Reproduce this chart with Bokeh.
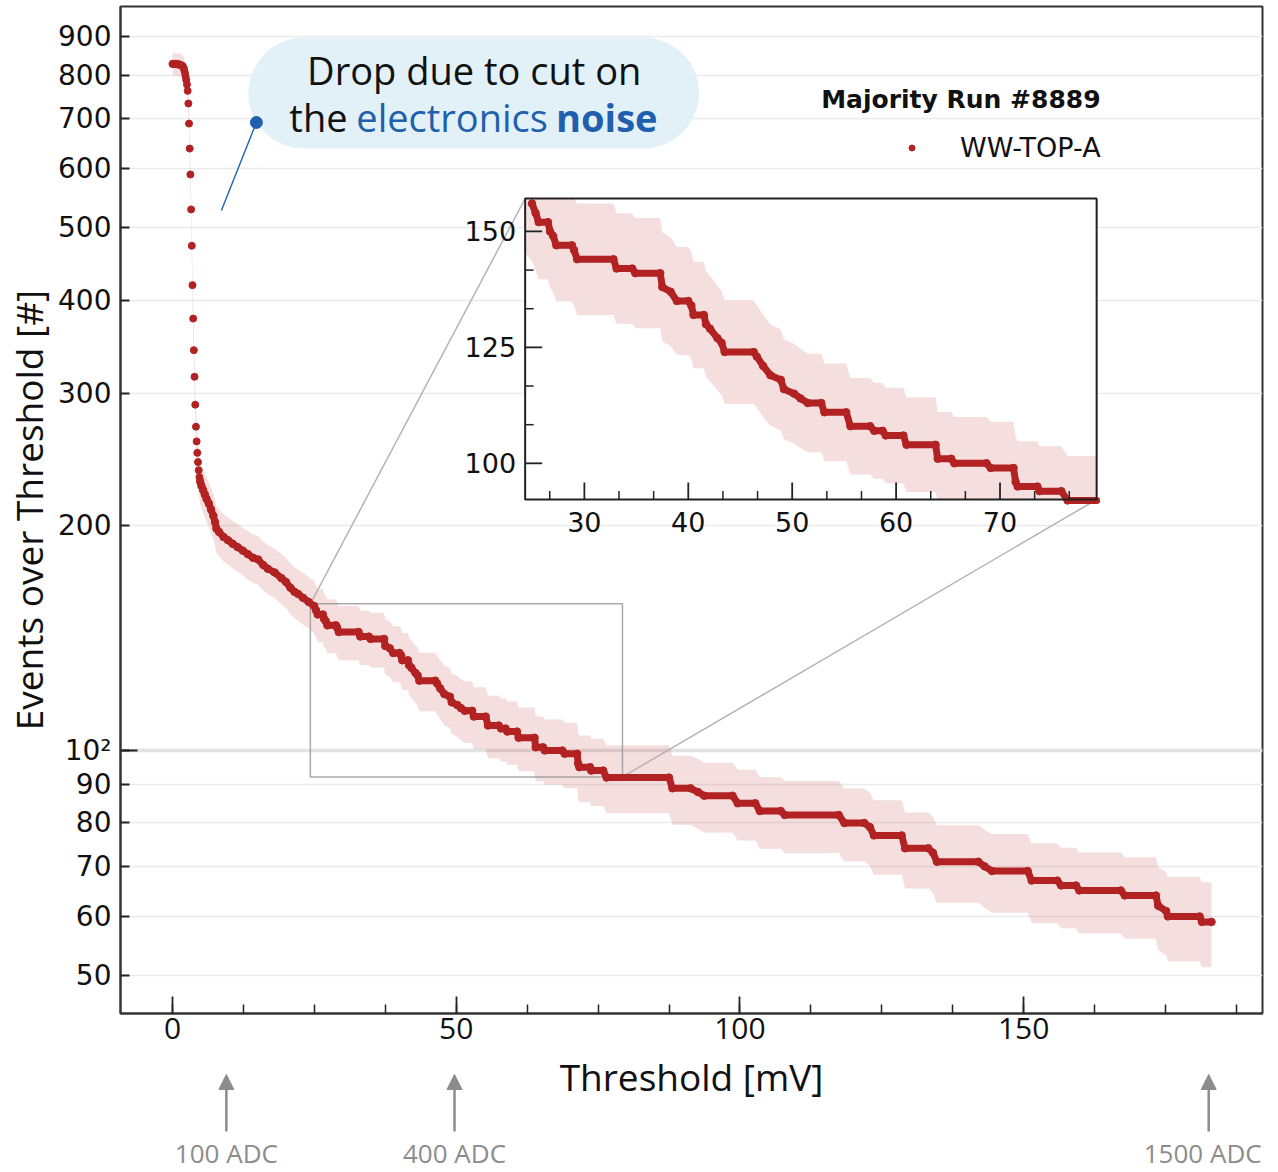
import numpy as np
from bokeh.plotting import figure
from bokeh.layouts import column
from bokeh.models import (Range1d, LinearScale, FixedTicker, BasicTickFormatter, Span, Label,
                          Legend, LegendItem, BoxAnnotation, Arrow, NormalHead)
from bokeh.core.properties import value
from bokeh.embed import file_html
from bokeh.resources import INLINE

# ---------------------------------------------------------------- data
# Steep part: electronics noise, one reading per ADC step
noise_mv = [0.00, 0.12, 0.24, 0.37, 0.49, 0.61, 0.73, 0.85, 0.97, 1.10,
            1.22, 1.34, 1.46, 1.58, 1.70, 1.83, 1.95, 2.07, 2.19, 2.31,
            2.43, 2.56, 2.68, 2.80, 2.92, 3.04, 3.16, 3.29, 3.41, 3.53,
            3.65, 3.77, 3.89, 4.02, 4.14, 4.26, 4.38, 4.50, 4.62, 4.75]
noise_events = [828, 828, 828, 828, 828, 828, 827, 827, 827, 827,
                826, 826, 825, 824, 823, 822, 818, 813, 806, 797,
                788, 777, 762, 733, 689, 638, 589, 529, 473, 419,
                378, 343, 316, 290, 271, 259, 250, 243, 237, 232]

# Threshold scan above the noise (corners of the counting staircase)
thr_mv = [4.88, 5.10, 5.40, 5.70, 6.00, 6.40, 6.80, 7.20, 7.50, 7.75,
          8.20, 9.00, 9.80, 10.6, 11.5, 12.4, 13.3, 14.2, 15.1, 16.0,
          16.8, 18.0, 19.2, 20.0, 20.8, 21.5, 22.1, 23.0, 24.0, 24.96,
          25.3, 25.6, 26.5, 26.7, 27.0, 27.3, 28.8, 29.0, 29.3, 32.8,
          33.1, 34.6, 34.9, 37.3, 37.5, 38.3, 38.9, 40.0, 40.3, 40.5,
          41.5, 41.7, 42.1, 42.8, 43.2, 43.5, 46.3, 46.6, 47.2, 47.9,
          48.9, 49.2, 50.2, 50.8, 51.5, 52.8, 53.1, 55.2, 55.6, 57.5,
          57.9, 58.7, 59.0, 60.7, 61.0, 63.8, 64.0, 65.3, 65.6, 68.7,
          69.1, 71.3, 71.5, 71.7, 73.6, 73.8, 75.9, 76.5, 87.5, 88.1,
          91.3, 92.6, 93.7, 98.7, 99.6, 102.7, 103.5, 107.2, 107.9, 117.4,
          118.4, 121.9, 122.9, 123.6, 128.5, 129.1, 133.2, 134.0, 134.7, 142.0,
          143.1, 144.4, 150.7, 151.4, 155.9, 156.6, 159.2, 159.8, 167.1, 167.8,
          173.3, 173.7, 175.1, 175.4, 181.0, 181.4, 183.1]
events = [229, 226, 223, 220, 217, 214, 210, 206, 202, 198,
          196, 193, 191, 189, 187, 185, 183, 181, 180, 177,
          175, 173, 170, 168, 165, 163, 162, 160, 158, 156,
          154, 152, 152, 150, 149, 147, 147, 146, 144, 144,
          142, 142, 141, 141, 138, 137, 135, 135, 134, 132,
          132, 130, 129, 127, 126, 124, 124, 123, 121, 119,
          118, 116, 115, 114, 113, 113, 111, 111, 108, 108,
          107, 107, 106, 106, 104, 104, 101, 101, 100, 100,
          99, 99, 96, 95, 95, 94, 94, 92, 92, 89,
          89, 88, 87, 87, 85, 85, 83, 83, 82, 82,
          80, 80, 79, 77, 77, 74, 74, 73, 71, 71,
          70, 69, 69, 67, 67, 66, 66, 65, 65, 64,
          64, 62, 61, 60, 60, 59, 59]

run_title = "Majority Run #8889"
series_name = "WW-TOP-A"

x_major = [0, 50, 100, 150]
x_minor = [12.5 * k for k in range(16)]
y_ticks = [50, 60, 70, 80, 90, 100, 200, 300, 400, 500, 600, 700, 800, 900]
inset_x_ticks = [30, 40, 50, 60, 70]
inset_y_ticks = [100, 125, 150]

adc_labels = ["100 ADC", "400 ADC", "1500 ADC"]
adc_mv = [9.5, 49.7, 182.6]

# ---------------------------------------------------------------- style / geometry
RED = "#b22222"
GREY = "#8c8c8c"
BLUE = "#1f5fad"
INK = "#111111"

W, H = 1278, 1172
MAIN_H = 1050                      # main plot; the strip below holds the x title and ADC marks
FL, FT, FW, FH = 119, 6, 1143, 1007
FR, FB = FL + FW, FT + FH
X_RANGE = (-9.155, 192.08)
Y_RANGE = (44.5, 988.0)
SX = FW / (X_RANGE[1] - X_RANGE[0])   # px per mV

# zoomed window and the box it is drawn into (page pixels)
IX = (24.3, 79.3)
IY = (92.2, 157.1)
IL, IR, IT, IB = 524, 1096, 198, 499
isx = (IR - IL) / (IX[1] - IX[0])
isy = (IB - IT) / (IY[1] - IY[0])
inset_xr = Range1d(IX[0] - (IL - FL) / isx, IX[1] + (FR - IR) / isx)
inset_yr = Range1d(IY[0] - (FB - IB) / isy, IY[1] + (IT - FT) / isy)


def page_x(v):
    return FL + (v - X_RANGE[0]) * SX


def page_y(v):
    lo, hi = np.log10(Y_RANGE)
    return FT + (hi - np.log10(v)) / (hi - lo) * FH


# ---------------------------------------------------------------- main figure
x_range = Range1d(*X_RANGE)
p = figure(width=W, height=MAIN_H,
           min_border_left=FL, min_border_right=W - FR,
           min_border_top=FT, min_border_bottom=MAIN_H - FB,
           x_range=x_range, y_range=Range1d(*Y_RANGE),
           y_axis_type="log", output_backend="svg", toolbar_location=None,
           background_fill_color="white", border_fill_color="white")
p.extra_x_ranges = {"px": Range1d(FL, FR), "inset": inset_xr}
p.extra_y_ranges = {"px": Range1d(FB, FT), "inset": inset_yr}
p.extra_x_scales = {"px": LinearScale(), "inset": LinearScale()}
p.extra_y_scales = {"px": LinearScale(), "inset": LinearScale()}

p.outline_line_color = "#333333"
p.outline_line_width = 2

xa, ya = p.xaxis[0], p.yaxis[0]
xa.ticker = FixedTicker(ticks=x_major, minor_ticks=x_minor)
ya.ticker = FixedTicker(ticks=y_ticks, minor_ticks=[])
ya.formatter = BasicTickFormatter()
ya.major_label_overrides = {t: ("10²" if t == 100 else str(t)) for t in y_ticks}

for ax in (xa, ya):
    ax.axis_line_color = "#333333"
    ax.axis_line_width = 2
    ax.major_tick_line_color = "#222222"
    ax.major_tick_line_width = 1.8
    ax.minor_tick_line_color = "#222222"
    ax.minor_tick_line_width = 1.5
    ax.major_tick_out = 0
    ax.minor_tick_out = 0
    ax.major_label_text_color = INK
    ax.axis_label_text_color = INK
    ax.axis_label_text_font = "Open Sans"
    ax.axis_label_text_font_size = "37px"
    ax.axis_label_text_font_style = "normal"

xa.major_tick_in = 17
xa.minor_tick_in = 9
xa.major_label_text_font = "Open Sans"
xa.major_label_text_font_size = "30px"
xa.major_label_standoff = 4

ya.major_tick_in = 9
ya.minor_tick_in = 0
ya.major_label_text_font = "DejaVu Sans"
ya.major_label_text_font_size = "28px"
ya.major_label_standoff = 9
ya.axis_label = "Events over Threshold [#]"
ya.axis_label_standoff = 1

p.xgrid.visible = False
p.ygrid.grid_line_color = "#ebebeb"
p.ygrid.grid_line_width = 1.5
p.add_layout(Span(location=100, dimension="width", line_color="#e2e2e2",
                  line_width=3.5, level="underlay"))
# longer major tick for the decade
p.segment(x0=[FL], x1=[FL + 17], y0=[100], y1=[100], x_range_name="px",
          line_color="#222222", line_width=1.8)

# ---------------------------------------------------------------- main series
all_mv = np.array(noise_mv + thr_mv, dtype=float)
all_n = np.array(noise_events + events, dtype=float)
sigma = np.sqrt(all_n)  # Poisson counting uncertainty

p.varea(x=all_mv, y1=all_n - sigma, y2=all_n + sigma, fill_color=RED, fill_alpha=0.15)

# region shown magnified
p.quad(left=[IX[0]], right=[IX[1]], bottom=[IY[0]], top=[IY[1]],
       fill_alpha=0, line_color="#9a9a9a", line_width=1.5, line_alpha=0.85)
p.segment(x0=[page_x(IX[0]), page_x(IX[1])], y0=[page_y(IY[1]), page_y(IY[0])],
          x1=[IL, IR], y1=[IT, IB], x_range_name="px", y_range_name="px",
          line_color="#b4b4b4", line_width=1.5)

p.scatter(noise_mv, noise_events, size=7, color=RED)
p.line(thr_mv, events, line_width=7, color=RED, line_join="round", line_cap="round")
dots = p.scatter(thr_mv, events, size=7.5, color=RED)

# ---------------------------------------------------------------- inset
t_mv = np.array(thr_mv, dtype=float)
t_n = np.array(events, dtype=float)
inside = (t_mv >= IX[0]) & (t_mv <= IX[1])
first = int(np.argmax(inside))
last = len(t_mv) - 1 - int(np.argmax(inside[::-1]))
lo_i, hi_i = max(first - 1, 0), min(last + 1, len(t_mv) - 1)

band_x = np.clip(t_mv[lo_i:hi_i + 1], *IX)
band_n = t_n[lo_i:hi_i + 1]
band_s = np.sqrt(band_n)
line_x = np.clip(t_mv[first:hi_i + 1], *IX)
line_n = t_n[first:hi_i + 1]

kw_in = dict(x_range_name="inset", y_range_name="inset")
p.quad(left=[IX[0]], right=[IX[1]], bottom=[IY[0]], top=[IY[1]],
       fill_color="white", line_alpha=0, **kw_in)
p.varea(x=band_x, y1=np.clip(band_n - band_s, *IY), y2=np.clip(band_n + band_s, *IY),
        fill_color=RED, fill_alpha=0.15, **kw_in)
p.line(line_x, line_n, line_width=7, color=RED, line_join="round", line_cap="round", **kw_in)
p.scatter(t_mv[inside], t_n[inside], size=7.5, color=RED, **kw_in)
p.quad(left=[IX[0]], right=[IX[1]], bottom=[IY[0]], top=[IY[1]],
       fill_alpha=0, line_color="#222222", line_width=2, **kw_in)

ix_minor = [30 + k * 10 / 3 for k in range(-2, 16) if k % 3]
ix_minor = [v for v in ix_minor if IX[0] < v < IX[1]]
iy_minor = [100 + k * 25 / 3 for k in range(-2, 8) if k % 3]
iy_minor = [v for v in iy_minor if IY[0] < v < IY[1]]

tick_kw = dict(line_color="#222222", **kw_in)
p.segment(x0=inset_x_ticks, x1=inset_x_ticks, y0=[IY[0]] * 5, y1=[IY[0] + 17 / isy] * 5,
          line_width=1.8, **tick_kw)
p.segment(x0=ix_minor, x1=ix_minor, y0=[IY[0]] * len(ix_minor),
          y1=[IY[0] + 8.5 / isy] * len(ix_minor), line_width=1.5, **tick_kw)
p.segment(y0=inset_y_ticks, y1=inset_y_ticks, x0=[IX[0]] * 3, x1=[IX[0] + 17 / isx] * 3,
          line_width=1.8, **tick_kw)
p.segment(y0=iy_minor, y1=iy_minor, x0=[IX[0]] * len(iy_minor),
          x1=[IX[0] + 8.5 / isx] * len(iy_minor), line_width=1.5, **tick_kw)

p.text(x=inset_x_ticks, y=[IY[0] - 22 / isy] * 5, text=[str(t) for t in inset_x_ticks],
       text_font=value("DejaVu Sans"), text_font_size="27px", text_color=INK,
       text_align="center", text_baseline="middle", **kw_in)
p.text(x=[IX[0] - 9 / isx] * 3, y=inset_y_ticks, text=[str(t) for t in inset_y_ticks],
       text_font=value("DejaVu Sans"), text_font_size="27px", text_color=INK,
       text_align="right", text_baseline="middle", **kw_in)

# ---------------------------------------------------------------- callout
kw_px = dict(x_range_name="px", y_range_name="px")
p.add_layout(BoxAnnotation(left=247, right=698, top=37, bottom=148, fill_color="#e2f1f8",
                           fill_alpha=1.0, line_alpha=0, border_radius=56, **kw_px))
p.add_layout(Label(x=473, y=69, text="Drop due to cut on", text_align="center",
                   text_baseline="alphabetic", text_font="Open Sans", text_font_size="38px",
                   text_color=INK, **kw_px))
for x, txt, col, style in [(288, "the", INK, "normal"),
                           (355, "electronics", BLUE, "normal"),
                           (555, "noise", BLUE, "bold")]:
    p.add_layout(Label(x=x, y=116, text=txt, text_align="left", text_baseline="alphabetic",
                       text_font="Open Sans", text_font_size="38px", text_color=col,
                       text_font_style=style, **kw_px))
p.segment(x0=[255], y0=[122], x1=[220], y1=[210], line_color=BLUE, line_width=1.4,
          level="overlay", **kw_px)
p.scatter([255], [122], size=12, color=BLUE, level="overlay", **kw_px)

# ---------------------------------------------------------------- legend
p.add_layout(Label(x=1100, y=99, text=run_title, text_align="right", text_baseline="middle",
                   text_font="DejaVu Sans", text_font_style="bold", text_font_size="25px",
                   text_color=INK, **kw_px))
legend = Legend(items=[LegendItem(label=series_name, renderers=[dots])],
                location=(784, 850), padding=0, margin=0, spacing=0,
                glyph_width=15, glyph_height=15, label_standoff=41,
                label_text_font="DejaVu Sans", label_text_font_size="27px",
                label_text_color=INK, background_fill_alpha=0, border_line_alpha=0)
p.add_layout(legend)

# ---------------------------------------------------------------- strip under the plot:
# x-axis title and the ADC reference marks, on the plot's own mV range
strip = figure(width=W, height=H - MAIN_H, min_border=0,
               x_range=x_range, y_range=Range1d(H, MAIN_H),
               x_axis_location=None, y_axis_location=None,
               output_backend="svg", toolbar_location=None,
               background_fill_color="white", border_fill_color="white")
strip.outline_line_color = None
strip.grid.visible = False

strip.add_layout(Label(x=sum(X_RANGE) / 2, y=1076, text="Threshold [mV]", text_align="center",
                       text_baseline="middle", text_font="Open Sans", text_font_size="37px",
                       text_color=INK))
for mv, txt in zip(adc_mv, adc_labels):
    strip.add_layout(Arrow(x_start=mv, x_end=mv, y_start=1131, y_end=1074,
                           line_color=GREY, line_width=2.5,
                           end=NormalHead(size=15, fill_color=GREY, line_color=GREY)))
    strip.add_layout(Label(x=mv, y=1152, text=txt, text_align="center",
                           x_offset=-6 if mv > 150 else 0,
                           text_baseline="middle", text_font="Open Sans",
                           text_font_size="26px", text_color=GREY))

layout = column(p, strip, spacing=0)
open("out.html", "w").write(file_html(layout, INLINE))
